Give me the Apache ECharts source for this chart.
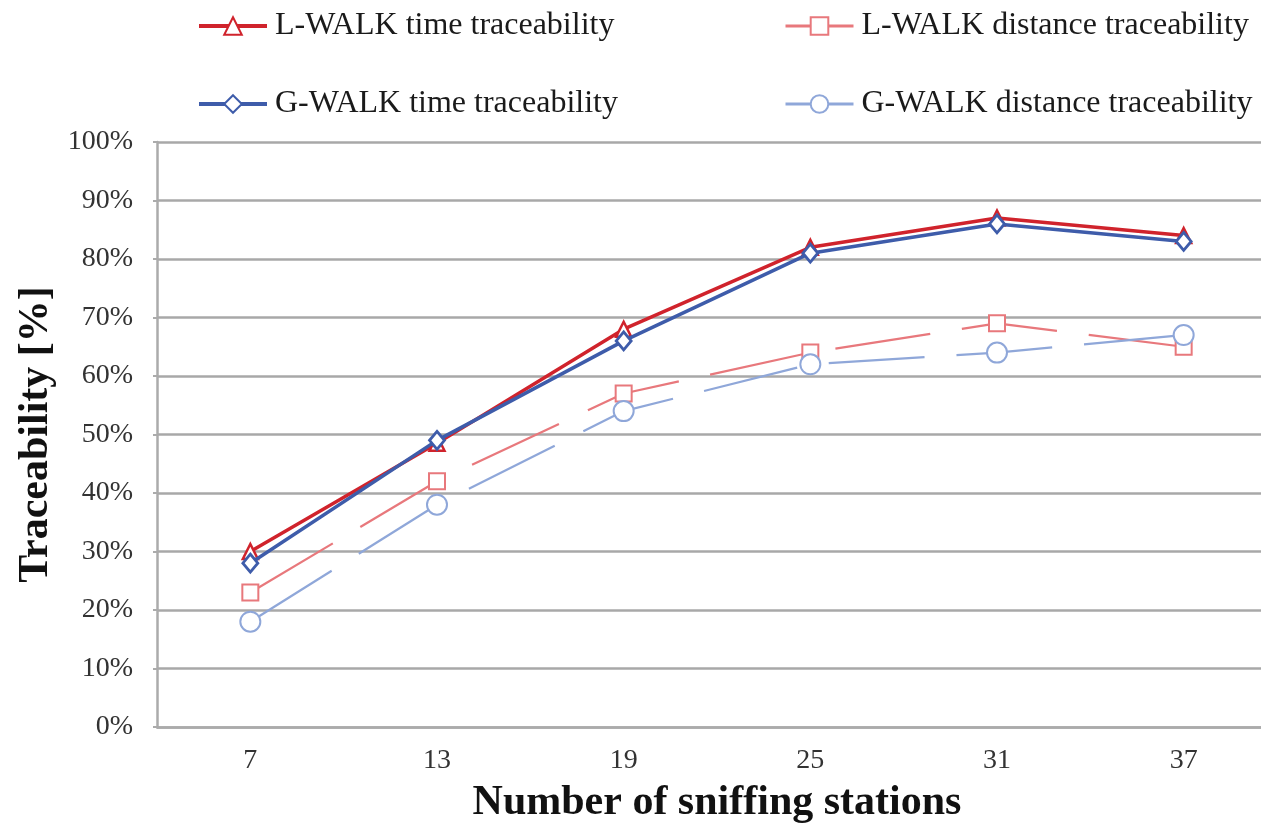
<!DOCTYPE html>
<html>
<head>
<meta charset="utf-8">
<script src="https://cdn.jsdelivr.net/npm/echarts@6/dist/echarts.min.js"></script>
<style>html,body{margin:0;padding:0;background:#fff}#c{width:1261px;height:832px}</style>
</head>
<body>
<div id="c"></div>
<script>
const categories = ['7', '13', '19', '25', '31', '37'];
const lwalkTime = [30, 48.5, 68, 82, 87, 84];
const lwalkDist = [23, 42, 57, 64, 69, 65];
const gwalkTime = [28, 49, 66, 81, 86, 83];
const gwalkDist = [18, 38, 54, 62, 64, 67];
const yTicks = [0, 10, 20, 30, 40, 50, 60, 70, 80, 90, 100];

const FONT = 'Liberation Serif, Times New Roman, serif';
const C_LT = '#d0232c', C_LD = '#e8787c', C_GT = '#3e5caa', C_GD = '#8fa7d9';

const chart = echarts.init(document.getElementById('c'));
function legend(name, left, top, lw) {
  return {
    data: [name], left: left, top: top, padding: 0,
    itemWidth: 68, itemHeight: 22, itemGap: 0,
    lineStyle: { width: lw },
    textStyle: { fontFamily: FONT, fontSize: 32, color: '#1a1a1a', padding: [0, 0, 0, 3] }
  };
}
chart.setOption({
  animation: false,
  backgroundColor: '#fff',
  legend: [
    legend('L-WALK time traceability', 197, 10, 4),
    legend('L-WALK distance traceability', 784, 10, 3),
    legend('G-WALK time traceability', 197, 88, 4),
    legend('G-WALK distance traceability', 784, 88, 3)
  ],
  grid: { left: 157, right: -16, top: 142, bottom: 105, containLabel: false, outerBoundsMode: 'none' },
  xAxis: {
    type: 'category', data: categories, boundaryGap: true,
    name: 'Number of sniffing stations', nameLocation: 'middle', nameGap: 55,
    nameTextStyle: { fontFamily: FONT, fontSize: 42, fontWeight: 'bold', color: '#111' },
    axisLine: { lineStyle: { color: '#ababab', width: 2.5 } },
    axisTick: { show: false },
    axisLabel: { fontFamily: FONT, fontSize: 28, color: '#333', margin: 20 }
  },
  yAxis: {
    type: 'value', min: 0, max: 100, interval: 10,
    name: 'Traceability [%]', nameLocation: 'middle', nameGap: 98,
    nameTextStyle: { fontFamily: FONT, fontSize: 42, fontWeight: 'bold', color: '#111' },
    axisLine: { show: true, lineStyle: { color: '#ababab', width: 2.5 } },
    axisTick: { show: true, length: 4, lineStyle: { color: '#ababab', width: 2 } },
    splitLine: { lineStyle: { color: '#a8a8a8', width: 2.5 } },
    axisLabel: { fontFamily: FONT, fontSize: 28, color: '#333', margin: 24,
      formatter: v => yTicks.includes(v) ? v + '%' : '' }
  },
  series: [
    { name: 'L-WALK time traceability', type: 'line', data: lwalkTime,
      symbol: 'triangle', symbolSize: 15, z: 2,
      lineStyle: { color: C_LT, width: 3.5 },
      itemStyle: { color: '#fff', borderColor: C_LT, borderWidth: 2.5 } },
    { name: 'L-WALK distance traceability', type: 'line', data: lwalkDist,
      symbol: 'rect', symbolSize: 16, z: 2,
      lineStyle: { color: C_LD, width: 2.2, type: [96, 32] },
      itemStyle: { color: '#fff', borderColor: C_LD, borderWidth: 2 } },
    { name: 'G-WALK time traceability', type: 'line', data: gwalkTime,
      symbol: 'diamond', symbolSize: [15, 18], z: 3,
      lineStyle: { color: C_GT, width: 3.5 },
      itemStyle: { color: '#fff', borderColor: C_GT, borderWidth: 2.8 } },
    { name: 'G-WALK distance traceability', type: 'line', data: gwalkDist,
      symbol: 'circle', symbolSize: 20, z: 3,
      lineStyle: { color: C_GD, width: 2.2, type: [96, 32] },
      itemStyle: { color: '#fff', borderColor: C_GD, borderWidth: 2 } }
  ]
});
</script>
</body>
</html>
